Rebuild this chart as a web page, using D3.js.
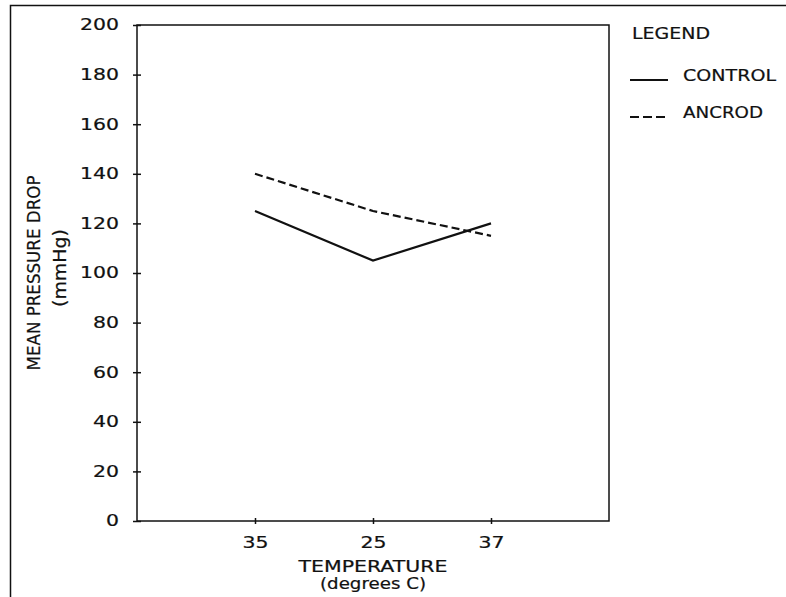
<!DOCTYPE html>
<html>
<head>
<meta charset="utf-8">
<script src="https://cdn.jsdelivr.net/npm/d3@7"></script>
<style>
  html, body { margin: 0; padding: 0; background: #fff; }
  svg { display: block; }
  text { fill: #111; stroke: #111; stroke-width: 0.2px; }
</style>
</head>
<body>
<script>
// data
const temperatures = ["35", "25", "37"];
const control = [125, 105, 120];
const ancrod = [140, 125, 115];
const yTicks = [0, 20, 40, 60, 80, 100, 120, 140, 160, 180, 200];
const seriesNames = ["CONTROL", "ANCROD"];

const width = 786, height = 597;
const margin = { left: 137, top: 25, right: 177, bottom: 76 };
const plotW = width - margin.left - margin.right;
const plotH = height - margin.top - margin.bottom;

const svg = d3.select("body").append("svg")
    .attr("width", width)
    .attr("height", height);

// outer frame (top and left edge of the scanned page box)
svg.append("path")
    .attr("d", `M10.5,${height} L10.5,5.5 L${width},5.5`)
    .attr("fill", "none")
    .attr("stroke", "#111")
    .attr("stroke-width", 1.5);

const g = svg.append("g").attr("transform", `translate(${margin.left},${margin.top})`);

const x = d3.scalePoint().domain(temperatures).range([0, plotW]).padding(1);
const y = d3.scaleLinear().domain([0, 200]).range([plotH, 0]);

// plot box
g.append("rect")
    .attr("width", plotW)
    .attr("height", plotH)
    .attr("fill", "none")
    .attr("stroke", "#111")
    .attr("stroke-width", 1.5);

// wide, rounded tick digits: stretch each label a bit
function styleTicks(sel) {
    sel.attr("font-family", "DejaVu Sans, sans-serif")
        .attr("font-size", 15)
        .attr("fill", "#111")
        .attr("lengthAdjust", "spacingAndGlyphs")
        .attr("textLength", function () { return this.textContent.length * 13; });
}

// y axis: ticks crossing the line
const yAxis = g.append("g").call(d3.axisLeft(y).tickValues(yTicks).tickSize(4).tickPadding(14));
yAxis.select(".domain").remove();
yAxis.selectAll(".tick line").attr("x2", -4).attr("x1", 4).attr("stroke", "#111").attr("stroke-width", 1.5);
yAxis.selectAll(".tick text").call(styleTicks);

// x axis
const xAxis = g.append("g")
    .attr("transform", `translate(0,${plotH})`)
    .call(d3.axisBottom(x).tickSize(3).tickPadding(13));
xAxis.select(".domain").remove();
xAxis.selectAll(".tick line").attr("y1", -3).attr("stroke", "#111").attr("stroke-width", 1.5);
xAxis.selectAll(".tick text").call(styleTicks);

// axis titles
g.append("text")
    .attr("x", x("25")).attr("y", plotH + 51)
    .attr("text-anchor", "middle")
    .attr("font-family", "DejaVu Sans, sans-serif")
    .attr("font-size", 15)
    .attr("textLength", 149).attr("lengthAdjust", "spacingAndGlyphs")
    .text("TEMPERATURE");
g.append("text")
    .attr("x", x("25")).attr("y", plotH + 68)
    .attr("text-anchor", "middle")
    .attr("font-family", "DejaVu Sans, sans-serif")
    .attr("font-size", 15)
    .attr("textLength", 106).attr("lengthAdjust", "spacingAndGlyphs")
    .text("(degrees C)");

svg.append("text")
    .attr("transform", `translate(40,${margin.top + plotH / 2}) rotate(-90)`)
    .attr("text-anchor", "middle")
    .attr("font-family", "Liberation Sans Narrow, DejaVu Sans Condensed, sans-serif")
    .attr("font-size", 17.5)
    .attr("textLength", 195).attr("lengthAdjust", "spacingAndGlyphs")
    .text("MEAN PRESSURE DROP");
svg.append("text")
    .attr("transform", `translate(66,${margin.top + plotH / 2 - 5}) rotate(-90)`)
    .attr("text-anchor", "middle")
    .attr("font-family", "Liberation Sans Narrow, DejaVu Sans Condensed, sans-serif")
    .attr("font-size", 17.5)
    .attr("textLength", 78).attr("lengthAdjust", "spacingAndGlyphs")
    .text("(mmHg)");

// series lines
const line = d3.line().x((d, i) => x(temperatures[i])).y(d => y(d));
const dashes = [null, "8,4"];
[control, ancrod].forEach((vals, k) => {
    g.append("path")
        .datum(vals)
        .attr("d", line)
        .attr("fill", "none")
        .attr("stroke", "#111")
        .attr("stroke-width", 2.2)
        .attr("stroke-dasharray", dashes[k]);
});

// legend
const lg = svg.append("g").attr("transform", "translate(630,0)");
lg.append("text")
    .attr("x", 2).attr("y", 39)
    .attr("font-family", "DejaVu Sans, sans-serif")
    .attr("font-size", 15)
    .attr("textLength", 78).attr("lengthAdjust", "spacingAndGlyphs")
    .text("LEGEND");
const legendLen = [93, 80];
seriesNames.forEach((name, k) => {
    const yy = 80 + k * 37;
    lg.append("line")
        .attr("x1", 0).attr("x2", 38)
        .attr("y1", yy).attr("y2", yy)
        .attr("stroke", "#111")
        .attr("stroke-width", 2)
        .attr("stroke-dasharray", k ? "9,4" : null);
    lg.append("text")
        .attr("x", 53).attr("y", yy + 1)
        .attr("font-family", "DejaVu Sans, sans-serif")
        .attr("font-size", 15)
        .attr("textLength", legendLen[k]).attr("lengthAdjust", "spacingAndGlyphs")
        .text(name);
});
</script>
</body>
</html>
